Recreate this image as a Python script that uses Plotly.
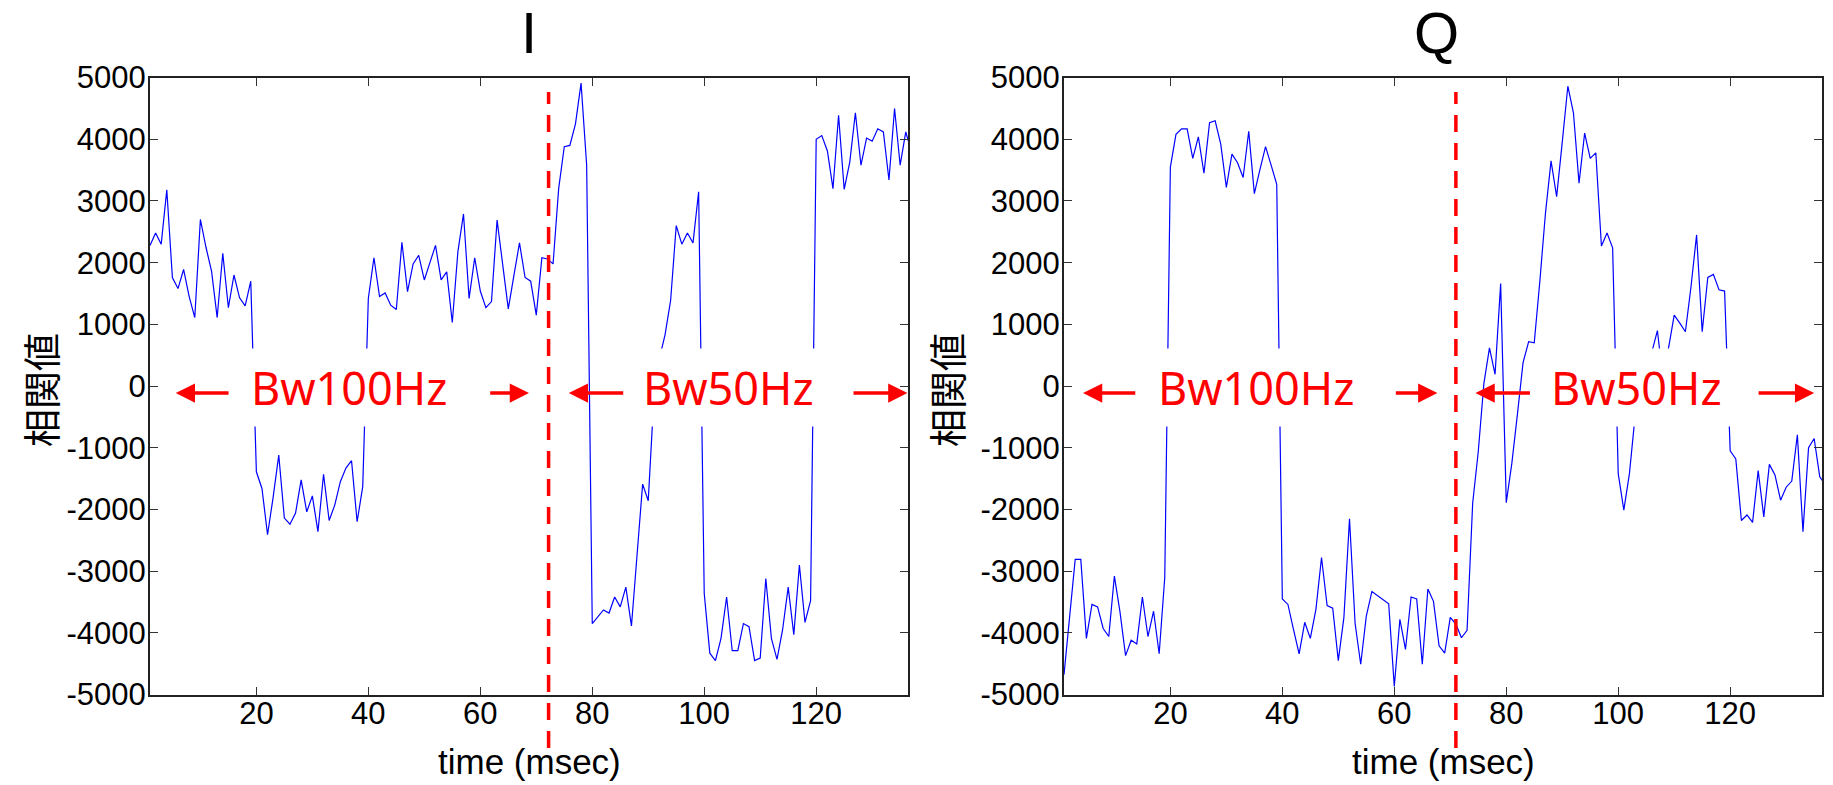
import plotly.graph_objects as go
from plotly.subplots import make_subplots

# time axis (msec), one sample per ms
time_ms = list(range(1, 138))

# I channel correlation values
i_corr = [
    2280, 2480, 2300, 3180, 1760, 1580, 1890, 1450, 1110, 2700,
    2250, 1860, 1110, 2150, 1270, 1800, 1430, 1300, 1700, -1390,
    -1660, -2410, -1800, -1120, -2140, -2240, -2060, -1520, -2040, -1780,
    -2360, -1430, -2180, -1930, -1550, -1330, -1210, -2200, -1630, 1420,
    2080, 1450, 1510, 1310, 1240, 2330, 1530, 1980, 2120, 1720,
    2000, 2280, 1720, 1850, 1030, 2180, 2790, 1420, 2080, 1540,
    1270, 1370, 2690, 1990, 1250, 1790, 2320, 1760, 1700, 1150,
    2080, 2060, 1980, 3200, 3880, 3900, 4250, 4910, 3580, -3850,
    -3740, -3630, -3680, -3420, -3580, -3260, -3890, -2770, -1590, -1860,
    -200, 450, 830, 1390, 2600, 2300, 2480, 2320, 3150, -3360,
    -4330, -4450, -4090, -3420, -4290, -4290, -3850, -3900, -4450, -4410,
    -3120, -4090, -4430, -3950, -3260, -4030, -2900, -3830, -3480, 4000,
    4060, 3810, 3200, 4390, 3190, 3630, 4430, 3580, 4020, 3970,
    4170, 4120, 3340, 4500, 3580, 4120, 3800,
]

# Q channel correlation values
q_corr = [
    -4680, -3700, -2810, -2810, -4090, -3540, -3580, -3930, -4060, -3080,
    -3660, -4370, -4120, -4180, -3420, -4060, -3650, -4340, -3100, 3550,
    4080, 4170, 4170, 3690, 4040, 3450, 4270, 4300, 3920, 3220,
    3760, 3620, 3380, 4130, 3120, 3510, 3880, 3580, 3270, -3450,
    -3540, -3950, -4340, -3830, -4090, -3620, -2780, -3560, -3600, -4450,
    -3750, -2150, -3850, -4510, -3730, -3330, -3400, -3470, -3530, -4870,
    -3780, -4270, -3420, -3450, -4510, -3290, -3490, -4210, -4330, -3750,
    -3860, -4080, -3960, -1900, -1060, 40, 620, 190, 1660, -1890,
    -1250, -450, 380, 720, 700, 1700, 2800, 3650, 3070, 3950,
    4860, 4430, 3290, 4100, 3690, 3780, 2270, 2480, 2240, -1420,
    -2010, -1420, -500, -100, 200, 550, 900, 100, 650, 1150,
    1020, 880, 1610, 2450, 880, 1760, 1810, 1560, 1540, -1050,
    -1180, -2180, -2090, -2210, -1370, -2120, -1270, -1440, -1850, -1640,
    -1540, -790, -2360, -1000, -850, -1470, -1600,
]

y_ticks = [5000, 4000, 3000, 2000, 1000, 0, -1000, -2000, -3000, -4000, -5000]
y_tick_text = ["5000", "4000", "3000", "2000", "1000", "0",
               "-1000", "-2000", "-3000", "-4000", "-5000"]
x_ticks = [20, 40, 60, 80, 100, 120]

# where the bandwidth switches from 100 Hz to 50 Hz
switch_i = 72.2
switch_q = 71.0

# label positions (time, value) and arrows (tail, head)
band_labels_i = [("Bw100Hz", 36.6), ("Bw50Hz", 104.4)]
band_labels_q = [("Bw100Hz", 35.3), ("Bw50Hz", 103.2)]
arrows_i = [(15.3, 5.6), (61.5, 68.7), (85.8, 75.8), (126.4, 136.3)]
arrows_q = [(14.0, 4.4), (60.0, 67.7), (84.5, 74.5), (124.8, 135.0)]
label_y = -20
arrow_y = -113

FIG_W = 1833
FIG_H = 785


def px(x):
    return x / FIG_W


def py(y):
    return 1 - y / FIG_H


fig = make_subplots(rows=1, cols=2)

fig.add_trace(go.Scatter(x=time_ms, y=i_corr, mode="lines",
                         line=dict(color="#0000ff", width=1.2)), row=1, col=1)
fig.add_trace(go.Scatter(x=time_ms, y=q_corr, mode="lines",
                         line=dict(color="#0000ff", width=1.2)), row=1, col=2)

tick_font = dict(family="Liberation Sans, Arial, sans-serif", size=31, color="black")
axis_common = dict(
    showline=True, linecolor="#222222", linewidth=2, mirror="ticks",
    ticks="inside", ticklen=8, tickwidth=1.2, tickcolor="#333333",
    showgrid=False, zeroline=False, tickfont=tick_font, automargin=False,
)

fig.update_xaxes(range=[1, 136.4], tickvals=x_ticks, ticklabelstandoff=-10,
                 **axis_common)
fig.update_yaxes(range=[-5000, 5000], tickvals=y_ticks, ticktext=y_tick_text,
                 ticklabelstandoff=-4, **axis_common)

fig.update_layout(
    xaxis=dict(domain=[px(150), px(908)]),
    xaxis2=dict(domain=[px(1064), px(1822)]),
    yaxis=dict(domain=[py(694.5), py(77.6)]),
    yaxis2=dict(domain=[py(694.5), py(77.6)]),
)

# dashed separators, running past the bottom axis
for xr, xpos in [("x", switch_i), ("x2", switch_q)]:
    fig.add_shape(type="line", xref=xr, yref="paper", x0=xpos, x1=xpos,
                  y0=py(748), y1=py(92),
                  line=dict(color="#ff0000", width=3.5, dash="17px,11px"))

annotations = []
for xr, yr, labels, arrows in [("x", "y", band_labels_i, arrows_i),
                               ("x2", "y2", band_labels_q, arrows_q)]:
    for text, xpos in labels:
        annotations.append(dict(
            x=xpos, y=label_y, xref=xr, yref=yr, text=text, showarrow=False,
            font=dict(family="Noto Sans, sans-serif", size=45, color="#ff0000"),
            bgcolor="white", borderpad=8,
        ))
    for tail, head in arrows:
        annotations.append(dict(
            x=head, y=arrow_y, ax=tail, ay=arrow_y, xref=xr, yref=yr,
            axref=xr, ayref=yr, text="", showarrow=True, arrowhead=2,
            arrowsize=1.1, arrowwidth=3.5, arrowcolor="#ff0000", standoff=0,
        ))

title_font = dict(family="Liberation Sans, Arial, sans-serif", size=58, color="black")
label_font = dict(family="Liberation Sans, Arial, sans-serif", size=35, color="black")
cjk_font = dict(family="Noto Sans CJK JP, sans-serif", size=38, color="black")

for title, title_x, xlab_x, ylab_x in [("I", 529, 529, 39), ("Q", 1436, 1443, 945)]:
    annotations.append(dict(x=px(title_x), y=py(33), xref="paper", yref="paper",
                            text=title, showarrow=False, font=title_font,
                            xanchor="center", yanchor="middle"))
    annotations.append(dict(x=px(xlab_x), y=py(761), xref="paper", yref="paper",
                            text="time (msec)", showarrow=False, font=label_font,
                            xanchor="center", yanchor="middle"))
    annotations.append(dict(x=px(ylab_x), y=py(390), xref="paper", yref="paper",
                            text="相関値", showarrow=False, font=cjk_font,
                            textangle=-90, xanchor="center", yanchor="middle"))

fig.update_layout(
    width=FIG_W, height=FIG_H, autosize=False,
    margin=dict(l=0, r=0, t=0, b=0, pad=0, autoexpand=False),
    paper_bgcolor="white", plot_bgcolor="white",
    showlegend=False,
    annotations=annotations,
)

# drop the default page margin so the figure fills the window exactly
fig.write_html("out.html", config={"displayModeBar": False},
               post_script="document.body.style.margin = '0px';")
